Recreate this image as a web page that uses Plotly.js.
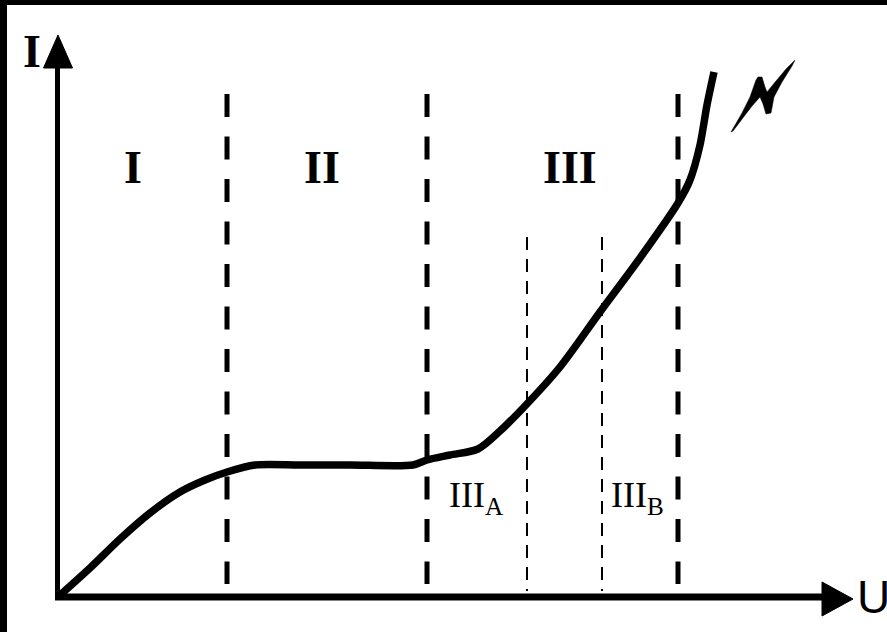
<!DOCTYPE html>
<html>
<head>
<meta charset="utf-8">
<script src="https://cdn.plot.ly/plotly-3.0.1.min.js"></script>
<style>
  html, body { margin: 0; padding: 0; background: #fff; }
  #chart { width: 887px; height: 632px; }
</style>
</head>
<body>
<div id="chart"></div>
<script>
// Current-voltage characteristic (U in arbitrary units, I in arbitrary units)
const curveU = [0.2, 3.3, 6.3, 9.3, 12.3, 14.8, 17.0, 19.8, 24.3, 29.3, 35.6, 37.0, 39.3, 42.1, 44.3, 46.8, 50.3, 54.3, 58.3, 62.1, 63.3, 64.3, 65.0, 65.7];
const curveI = [0.1, 2.9, 5.8, 8.4, 10.5, 11.7, 12.5, 13.2, 13.2, 13.2, 13.2, 13.7, 14.2, 14.8, 16.6, 19.1, 23.0, 28.5, 33.9, 39.4, 41.7, 45.2, 49.2, 52.5];

// Region boundaries
const mainBoundsU = [17.0, 37.0, 62.1];
const mainBoundsI = [50.3, 1.3];
const subBoundsU = [47.0, 54.5];
const subBoundsI = [36.0, 0.6];

// Axes (with arrow heads)
const yAxisU = [0.05, 0.05];
const yAxisI = [52.9, -0.3];
const yArrowU = [-1.35, 0.1, 1.55, -1.35];
const yArrowI = [52.9, 56.2, 52.9, 52.9];
const xAxisU = [-0.2, 76.5];
const xAxisI = [0.0, 0.0];
const xArrowU = [76.5, 79.6, 76.5, 76.5];
const xArrowI = [1.5, -0.2, -1.9, 1.5];

// Breakdown (lightning) symbol
const boltU = [67.4, 68.5, 69.3, 69.9, 70.1, 70.5, 70.8, 71.0, 71.9, 72.9, 73.8, 73.5, 72.5, 71.7, 71.4, 70.9, 70.6, 70.3, 69.5, 68.5, 67.6, 67.4];
const boltI = [46.5, 48.4, 50.0, 51.7, 52.0, 52.0, 51.0, 50.5, 51.6, 52.8, 53.7, 53.1, 51.5, 50.0, 48.4, 48.3, 49.3, 50.0, 49.1, 47.8, 46.6, 46.5];

// Labels
const regionLabels = ["I", "II", "III"];
const regionLabelU = [7.6, 26.5, 51.3];
const regionLabelI = [43.0, 43.0, 43.0];
const subLabels = ["III<sub>A</sub>", "III<sub>B</sub>"];
const subLabelU = [41.9, 58.05];
const subLabelI = [10.0, 10.0];

const traces = [];
mainBoundsU.forEach(u => traces.push({
  x: [u, u], y: mainBoundsI, mode: 'lines', hoverinfo: 'skip',
  line: {color: '#000', width: 5, dash: '23px,19.5px'}
}));
subBoundsU.forEach(u => traces.push({
  x: [u, u], y: subBoundsI, mode: 'lines', hoverinfo: 'skip',
  line: {color: '#000', width: 2, dash: '13px,9px'}
}));
traces.push({x: yAxisU, y: yAxisI, mode: 'lines', line: {color: '#000', width: 5}, hoverinfo: 'skip'});
traces.push({x: xAxisU, y: xAxisI, mode: 'lines', line: {color: '#000', width: 7}, hoverinfo: 'skip'});
traces.push({x: yArrowU, y: yArrowI, mode: 'lines', fill: 'toself', fillcolor: '#000', line: {color: '#000', width: 1}, hoverinfo: 'skip'});
traces.push({x: xArrowU, y: xArrowI, mode: 'lines', fill: 'toself', fillcolor: '#000', line: {color: '#000', width: 1}, hoverinfo: 'skip'});
traces.push({x: curveU, y: curveI, mode: 'lines', line: {color: '#000', width: 7.5, shape: 'spline', smoothing: 0.8}, hoverinfo: 'skip'});
traces.push({x: boltU, y: boltI, mode: 'lines', fill: 'toself', fillcolor: '#000', line: {color: '#000', width: 0.5}, hoverinfo: 'skip'});

const serif = 'Liberation Serif, Times New Roman, serif';
const annotations = [];
regionLabels.forEach((t, i) => annotations.push({
  x: regionLabelU[i], y: regionLabelI[i], xref: 'x', yref: 'y', text: '<b>' + t + '</b>',
  showarrow: false, font: {family: serif, size: 46, color: '#000'}, xanchor: 'center', yanchor: 'middle'
}));
subLabels.forEach((t, i) => annotations.push({
  x: subLabelU[i], y: subLabelI[i], xref: 'x', yref: 'y', text: t,
  showarrow: false, font: {family: serif, size: 36, color: '#000'}, xanchor: 'center', yanchor: 'middle'
}));
annotations.push({x: -2.55, y: 54.55, xref: 'x', yref: 'y', text: '<b>I</b>', showarrow: false,
  font: {family: serif, size: 46, color: '#000'}, xanchor: 'center', yanchor: 'middle'});
annotations.push({x: 79.8, y: 0.05, xref: 'x', yref: 'y', text: 'U', showarrow: false,
  font: {family: 'Liberation Sans, Arial, sans-serif', size: 46, color: '#000'}, xanchor: 'left', yanchor: 'middle'});

const layout = {
  width: 887, height: 632,
  margin: {l: 0, r: 0, t: 0, b: 0, pad: 0},
  paper_bgcolor: '#fff', plot_bgcolor: '#fff',
  showlegend: false,
  xaxis: {range: [-5.7, 83.0], visible: false, fixedrange: true},
  yaxis: {range: [-3.5, 59.7], visible: false, fixedrange: true},
  annotations: annotations,
  shapes: [
    {type: 'rect', xref: 'paper', yref: 'paper', x0: 0, x1: 7/887, y0: 0, y1: 1, fillcolor: '#000', line: {width: 0}},
    {type: 'rect', xref: 'paper', yref: 'paper', x0: 0, x1: 1, y0: 1 - 5/632, y1: 1, fillcolor: '#000', line: {width: 0}}
  ]
};

Plotly.newPlot('chart', traces, layout, {displayModeBar: false, staticPlot: true});
</script>
</body>
</html>
